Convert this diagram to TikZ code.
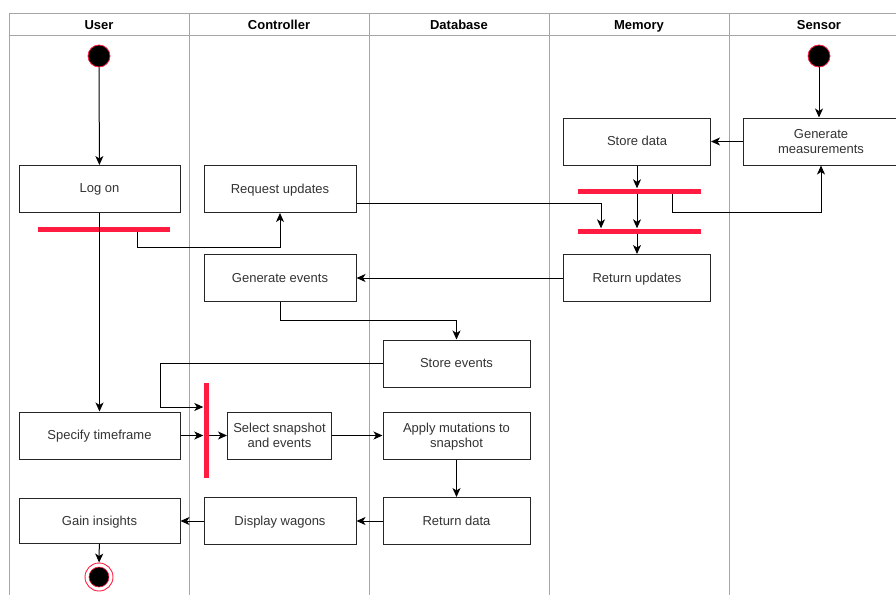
\documentclass[tikz,border=0pt]{standalone}
\usepackage{fontspec}
\setmainfont{Liberation Sans}
\usetikzlibrary{arrows.meta,calc}
\definecolor{barred}{RGB}{255,28,64}
\definecolor{lanegray}{RGB}{166,166,166}
\definecolor{ink}{RGB}{51,51,51}

\begin{document}
\begin{tikzpicture}[x=1pt,y=-1pt,
  act/.style={draw=black!85, line width=1pt, fill=white, minimum width=#1,
    minimum height=47pt, inner sep=0pt, font=\fontsize{13}{15}\selectfont,
    text=ink, align=center, text depth=1pt},
  act/.default=152,
  hbar/.style={fill=barred, draw=none, minimum width=#1, minimum height=5pt, inner sep=0pt},
  hbar/.default=123,
  vbar/.style={fill=barred, draw=none, minimum width=5pt, minimum height=95pt, inner sep=0pt},
  startdot/.style={circle, fill=black, draw=barred, line width=0.8pt, minimum size=22pt, inner sep=0pt},
  endring/.style={circle, fill=white, draw=barred, line width=0.9pt, minimum size=28pt, inner sep=0pt},
  enddot/.style={circle, fill=black, draw=barred, line width=0.6pt, minimum size=20pt, inner sep=0pt},
  lane/.style={draw=lanegray, line width=0.9pt},
  head/.style={font=\bfseries\fontsize{13}{15}\selectfont, text=black, anchor=base, inner sep=0pt},
  flow/.style={draw=black, line width=1pt, -{Stealth[length=9pt,width=8pt,inset=2.5pt]}},
  link/.style={draw=black, line width=1pt}
]
\useasboundingbox (0,0) rectangle (896,595);

% swimlanes
\draw[lane] (9,13) -- (896,13);
\draw[lane] (9,35) -- (896,35);
\foreach \x in {9,189,369,549,729} \draw[lane] (\x,13) -- (\x,595);
\node[head] (hUser) at (99,29) {User};
\node[head] (hCtrl) at (279,29) {Controller};
\node[head] (hDb)   at (459,29) {Database};
\node[head] (hMem)  at (639,29) {Memory};
\node[head] (hSens) at (819,29) {Sensor};

% start and end states
\node[startdot] (startU) at (99,56) {};
\node[startdot] (startS) at (819,56) {};
\node[endring] (endU) at (99,577) {};
\node[enddot] (endUc) at (endU) {};

% activities
\node[act=161] (logon)     at (99.5,189)   {Log on};
\node[act]     (requp)     at (280,189)    {Request updates};
\node[act=147] (storedata) at (637,141.5)  {Store data};
\node[act=156] (genmeas)   at (821,141.5)  {Generate\\measurements};
\node[act=147] (retup)     at (637,278)    {Return updates};
\node[act]     (genev)     at (280,278)    {Generate events};
\node[act=147] (storeev)   at (456.5,363.5){Store events};
\node[act=161] (spec)      at (99.5,435.5) {Specify timeframe};
\node[act=104] (selsnap)   at (279.5,435.5){Select snapshot\\and events};
\node[act=147] (apply)     at (456.5,435.5){Apply mutations to\\snapshot};
\node[act=147] (retdata)   at (456.5,521)  {Return data};
\node[act]     (disp)      at (280,521)    {Display wagons};
\node[act=161,minimum height=45pt] (gain) at (99.5,521) {Gain insights};

% fork / join bars
\node[hbar=132] (forkU) at (104,229) {};
\node[hbar] (barM1) at (639.5,191) {};
\node[hbar] (barM2) at (639.5,231) {};
\node[vbar] (barV) at (206,430.5) {};

% control flow
\draw[flow] (startU) -- (logon);
\draw[flow] (logon) -- (spec);
\draw[flow] ([xshift=33pt]forkU.south) -- ++(0,16) -| (requp.south);
\draw[flow] (startS) -- (startS |- genmeas.north);
\draw[flow] (genmeas) -- (storedata);
\draw[flow] (storedata.south) -- (storedata.south |- barM1.north);
\draw[flow] (storedata.south |- barM1.south) -- (storedata.south |- barM2.north);
\draw[flow] (retup.north |- barM2.south) -- (retup.north);
\draw[flow] ([xshift=32.5pt]barM1.south) -- ++(0,18.5) -| (genmeas.south);
\draw[flow] ([yshift=-14pt]requp.east) -| ([xshift=-38.5pt]barM2.north);
\draw[flow] (retup) -- (genev);
\draw[flow] (genev.south) -- ++(0,18.5) -| (storeev.north);
\draw[flow] (storeev.west) -- ++(-222,0) |- ([yshift=23.5pt]barV.west);
\draw[flow] (spec.east) -- (spec.east -| barV.west);
\draw[flow] (selsnap.west -| barV.east) -- (selsnap.west);
\draw[flow] (selsnap) -- (apply);
\draw[flow] (apply) -- (retdata);
\draw[flow] (retdata) -- (disp);
\draw[flow] (disp) -- (gain);
\draw[flow] (gain) -- (endU);
\end{tikzpicture}
\end{document}
